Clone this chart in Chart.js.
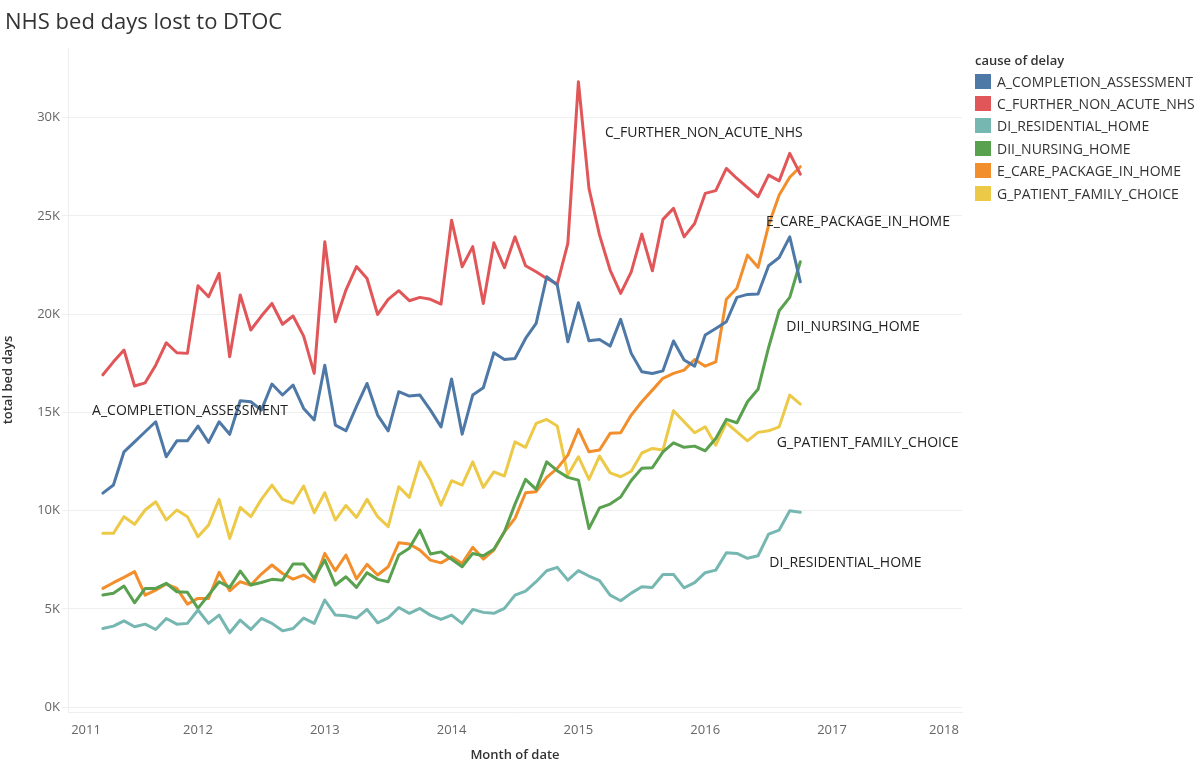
<!DOCTYPE html>
<html>
<head>
<meta charset="utf-8">
<title>NHS bed days lost to DTOC</title>
<script src="https://cdn.jsdelivr.net/npm/chart.js@4.4.1/dist/chart.umd.min.js"></script>
<style>
  body { margin: 0; background: #fff; font-family: "Open Sans", sans-serif; }
  #wrap { position: relative; width: 1200px; height: 767px; }
  #title { position: absolute; left: 5px; top: 5px; font-size: 22px; color: #333; white-space: nowrap; }
  #legend { position: absolute; left: 975px; top: 51px; color: #333; font-size: 14px; }
  #legend .head { font-weight: 600; font-size: 13px; margin-bottom: 1px; }
  #legend .item { display: flex; align-items: center; height: 22.4px; white-space: nowrap; }
  #legend .sw { width: 16px; height: 15px; margin-right: 6px; }
  canvas { position: absolute; left: 0; top: 0; }
</style>
</head>
<body>
<div id="wrap">
  <canvas id="chart" width="1200" height="767"></canvas>
  <div id="title">NHS bed days lost to DTOC</div>
  <div id="legend"></div>
</div>
<script>
const months = [
  '2011-04','2011-05','2011-06','2011-07','2011-08','2011-09','2011-10','2011-11','2011-12',
  '2012-01','2012-02','2012-03','2012-04','2012-05','2012-06','2012-07','2012-08','2012-09','2012-10','2012-11','2012-12',
  '2013-01','2013-02','2013-03','2013-04','2013-05','2013-06','2013-07','2013-08','2013-09','2013-10','2013-11','2013-12',
  '2014-01','2014-02','2014-03','2014-04','2014-05','2014-06','2014-07','2014-08','2014-09','2014-10','2014-11','2014-12',
  '2015-01','2015-02','2015-03','2015-04','2015-05','2015-06','2015-07','2015-08','2015-09','2015-10','2015-11','2015-12',
  '2016-01','2016-02','2016-03','2016-04','2016-05','2016-06','2016-07','2016-08','2016-09','2016-10'
];
const causes = ['A_COMPLETION_ASSESSMENT','C_FURTHER_NON_ACUTE_NHS','DI_RESIDENTIAL_HOME','DII_NURSING_HOME','E_CARE_PACKAGE_IN_HOME','G_PATIENT_FAMILY_CHOICE'];
const colors = ['#4e79a7','#e15759','#76b7b2','#59a14f','#f28e2b','#edc948'];

const completionAssessment = [10890,11300,12990,13500,14010,14520,12740,13550,13550,
  14300,13470,14520,13880,15590,15540,15110,16440,15880,16390,15200,14610,
  17400,14350,14060,15300,16470,14860,14060,16050,15830,15880,15110,14260,
  16700,13890,15880,16250,18030,17690,17740,18760,19530,21900,21480,18590,
  20580,18640,18710,18370,19730,18000,17060,16980,17110,18630,17660,17350,
  18930,19270,19610,20850,21000,21020,22460,22880,23930,21640];
const furtherNonAcute = [16910,17570,18170,16340,16500,17400,18540,18030,18000,
  21440,20880,22070,17830,20970,19190,19900,20540,19480,19900,18880,16980,
  23680,19610,21220,22420,21810,19980,20750,21190,20680,20850,20750,20510,
  24780,22410,23430,20540,23630,22360,23930,22460,22150,21810,21530,23600,
  31820,26400,24020,22240,21050,22150,24070,22200,24820,25380,23930,24610,
  26140,26280,27410,26900,26430,25970,27070,26780,28180,27120];
const residentialHome = [4000,4120,4390,4090,4220,3950,4510,4220,4260,
  4940,4260,4680,3780,4430,3950,4510,4260,3880,4000,4530,4260,
  5450,4680,4650,4530,4970,4290,4540,5070,4770,5020,4680,4460,
  4680,4260,4970,4820,4770,5020,5700,5900,6380,6940,7110,6460,
  6940,6670,6430,5700,5410,5800,6120,6090,6750,6750,6070,6330,
  6840,6970,7850,7820,7570,7700,8800,9010,9990,9910];
const nursingHome = [5700,5790,6160,5310,6040,6040,6300,5870,5840,
  5020,5700,6380,6090,6920,6210,6340,6500,6460,7280,7280,6550,
  7480,6210,6630,6090,6840,6500,6380,7740,8080,9010,7790,7900,
  7520,7140,7820,7700,8030,8920,10330,11590,11080,12480,12030,11690,
  11550,9090,10140,10330,10690,11530,12150,12180,12990,13450,13220,13280,
  13040,13670,14640,14470,15540,16170,18300,20170,20850,22660];
const carePackage = [6040,6330,6600,6890,5700,5950,6260,6040,5240,
  5530,5530,6860,5920,6380,6210,6770,7230,6800,6510,6720,6380,
  7820,6940,7740,6520,7260,6720,7140,8360,8300,7990,7480,7340,
  7650,7310,8130,7530,7990,8920,9600,10910,10960,11690,12150,12820,
  14130,12990,13080,13930,13960,14860,15540,16130,16730,16980,17150,17690,
  17350,17570,20750,21310,23000,22380,24530,26060,26960,27500];
const familyChoice = [8840,8840,9690,9300,10030,10450,9520,10030,9690,
  8670,9260,10570,8580,10160,9690,10570,11300,10570,10370,11250,9890,
  10910,9520,10260,9650,10570,9690,9180,11210,10670,12480,11550,10280,
  11520,11300,12480,11180,11970,11760,13500,13220,14440,14640,14300,11810,
  12740,11590,12770,11920,11720,12000,12930,13160,13080,15080,14520,13960,
  14260,13330,14470,14010,13550,13980,14060,14260,15880,15420];
const seriesValues = [completionAssessment, furtherNonAcute, residentialHome, nursingHome, carePackage, familyChoice];
const yTicks = [0, 5000, 10000, 15000, 20000, 25000, 30000];

// month string -> decimal year for the linear x axis
function monthToYear(m){ const p = m.split('-'); return +p[0] + (+p[1]-1)/12; }

// label anchors in data units (decimal year, bed days), left edge / middle
const lineLabels = [
  { text:'C_FURTHER_NON_ACUTE_NHS', x:2015.21, y:29210 },
  { text:'E_CARE_PACKAGE_IN_HOME', x:2016.48, y:24680 },
  { text:'DII_NURSING_HOME', x:2016.64, y:19340 },
  { text:'A_COMPLETION_ASSESSMENT', x:2011.165, y:15060 },
  { text:'G_PATIENT_FAMILY_CHOICE', x:2016.565, y:13440 },
  { text:'DI_RESIDENTIAL_HOME', x:2016.505, y:7330 }
];

const labelPlugin = {
  id: 'lineLabels',
  afterDatasetsDraw(chart){
    const {ctx, scales:{x, y}} = chart;
    ctx.save();
    ctx.font = '14px "Open Sans"';
    ctx.fillStyle = '#222';
    ctx.textAlign = 'left';
    ctx.textBaseline = 'middle';
    lineLabels.forEach(l => ctx.fillText(l.text, x.getPixelForValue(l.x), y.getPixelForValue(l.y)));
    ctx.restore();
  }
};

const datasets = causes.map((c, i) => ({
  label: c,
  data: months.map((m, j) => ({ x: monthToYear(m), y: seriesValues[i][j] })),
  borderColor: colors[i],
  backgroundColor: colors[i],
  borderWidth: 3,
  pointRadius: 0,
  tension: 0,
  borderJoinStyle: 'round',
  borderCapStyle: 'round'
}));

// html legend
const legend = document.getElementById('legend');
legend.innerHTML = '<div class="head">cause of delay</div>' + causes.map((c, i) =>
  `<div class="item"><span class="sw" style="background:${colors[i]}"></span>${c}</div>`).join('');

new Chart(document.getElementById('chart'), {
  type: 'line',
  data: { datasets },
  plugins: [labelPlugin],
  options: {
    responsive: false,
    animation: false,
    layout: { padding: { top: 48, right: 238, left: 0, bottom: 0 } },
    plugins: { legend: { display: false }, tooltip: { enabled: false } },
    scales: {
      x: {
        type: 'linear', min: 2010.975, max: 2018.025,
        grid: { display: false },
        border: { display: true, color: '#eeeeee' },
        ticks: { stepSize: 1, includeBounds: false, align: 'inner', autoSkip: false, maxRotation: 0,
          color: '#666', font: { family: 'Open Sans', size: 13 }, padding: 2, callback: v => String(v) },
        title: { display: true, text: 'Month of date', color: '#333', font: { family: 'Open Sans', size: 13, weight: '600' }, padding: { top: 8 } },
        afterFit(s){ s.height = 55; }
      },
      y: {
        min: -250, max: 33540,
        afterBuildTicks(s){ s.ticks = yTicks.map(v => ({ value: v })); },
        grid: { color: '#efefef', drawTicks: true, tickLength: 6, tickColor: '#efefef' },
        border: { display: true, color: '#eeeeee' },
        ticks: { color: '#666', font: { family: 'Open Sans', size: 13 }, padding: 2, callback: v => (v/1000) + 'K' },
        title: { display: true, text: 'total bed days', color: '#333', font: { family: 'Open Sans', size: 13, weight: '600' }, padding: { top: 0, bottom: 0 } },
        afterFit(s){ s.width = 68; }
      }
    }
  }
});
</script>
</body>
</html>
